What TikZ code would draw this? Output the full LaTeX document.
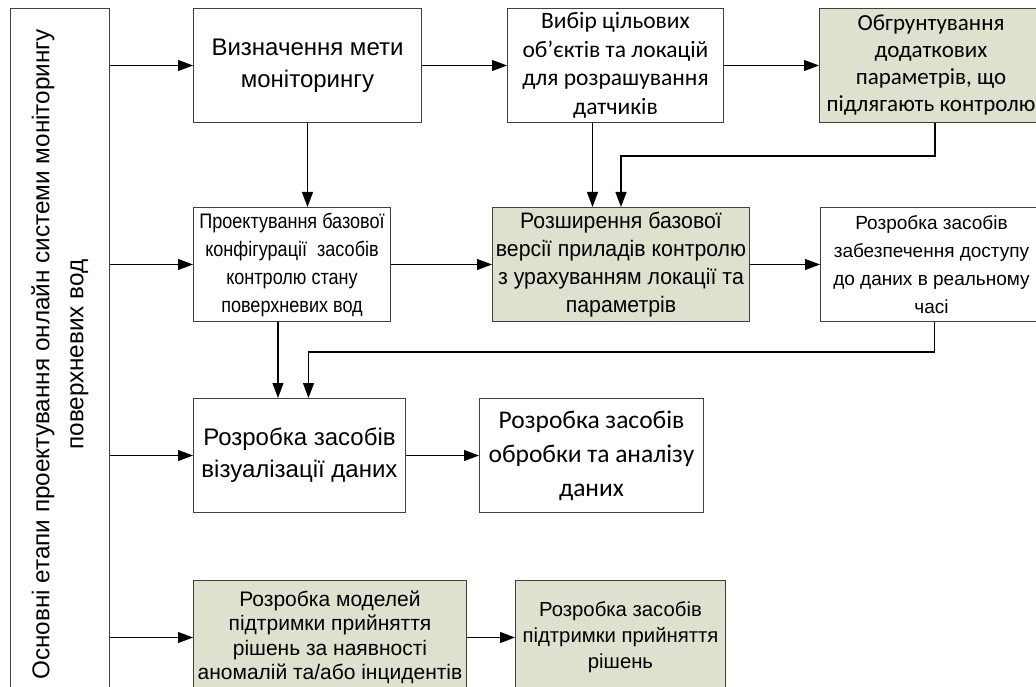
\documentclass[tikz,border=0pt]{standalone}
\usepackage{fontspec}
\setmainfont{Liberation Sans}
\newfontfamily\calibrifont{Carlito}
\newfontfamily\narrowfont[FakeStretch=0.86]{Liberation Sans}
\newfontfamily\semifont[FakeStretch=0.95]{Liberation Sans}
\usetikzlibrary{positioning}
\usetikzlibrary{arrows.meta}
\definecolor{sage}{RGB}{221,225,205}
\definecolor{edgegray}{RGB}{64,64,64}

\begin{document}
\begin{tikzpicture}[x=1pt, y=1pt,
stagebox/.style={rectangle, draw=edgegray, line width=1pt, minimum height=114pt, align=center, inner sep=2pt},
newbox/.style={stagebox, fill=sage},
edge/.style={-{Triangle[length=15pt,width=11pt]}, line width=1.1pt}
]
\useasboundingbox (0,0) rectangle (1036,-687);
\clip (0,0) rectangle (1036,-687);

%Nodes
\node[stagebox, rotate=90, minimum width=692pt, minimum height=99pt, anchor=north east, font=\fontsize{24.3}{34}\selectfont] (main) at (10,-8) {Основні етапи проектування онлайн системи моніторингу\\поверхневих вод};
\node[stagebox, minimum width=228pt, anchor=north west, font=\fontsize{24}{32}\selectfont] (goal) at (193,-8) {Визначення мети\\моніторингу};
\node[stagebox, minimum width=216pt, font=\calibrifont\fontsize{23.5}{28.5}\selectfont] (targets) [right=85pt of goal] {Вибір цільових\\об’єктів та локацій\\для розрашування\\датчиків};
\node[newbox, minimum width=223pt, font=\calibrifont\fontsize{23}{27}\selectfont] (params) [right=95pt of targets] {Обгрунтування\\додаткових\\параметрів, що\\підлягають контролю};
\node[stagebox, minimum width=197pt, font=\narrowfont\fontsize{21}{28}\selectfont] (design) [below=84pt of goal.south west, anchor=north west] {Проектування базової\\конфігурації~ засобів\\контролю стану\\поверхневих вод};
\node[newbox, minimum width=257pt, font=\semifont\fontsize{22.4}{28}\selectfont] (extend) [right=101pt of design] {Розширення базової\\версії приладів контролю\\з урахуванням локації та\\параметрів};
\node[stagebox, minimum width=222pt, font=\fontsize{19}{28}\selectfont] (access) [right=70pt of extend] {Розробка засобів\\забезпечення доступу\\до даних в реальному\\часі};
\node[stagebox, minimum width=212pt, font=\fontsize{24}{32}\selectfont] (visual) [below=76pt of design.south west, anchor=north west] {Розробка засобів\\візуалізації даних};
\node[stagebox, minimum width=224pt, font=\calibrifont\fontsize{25.5}{34}\selectfont] (analysis) [right=73pt of visual] {Розробка засобів\\обробки та аналізу\\даних};
\node[newbox, minimum width=273pt, font=\fontsize{21}{24.5}\selectfont] (models) [below=67pt of visual.south west, anchor=north west] {Розробка моделей\\підтримки прийняття\\рішень за наявності\\аномалій та/або інцидентів};
\node[newbox, minimum width=210pt, font=\fontsize{20.3}{26}\selectfont] (tools) [right=48pt of models] {Розробка засобів\\підтримки прийняття\\рішень};

%Lines
\foreach \n in {goal,design,visual,models}
  \draw[edge] (main.south |- \n.west) -- (\n.west);
\foreach \a/\b in {goal/targets, targets/params, design/extend, extend/access, visual/analysis, models/tools}
  \draw[edge] (\a.east) -- (\b.west);

\draw[edge] (goal.south) -- (goal.south |- design.north);
\draw[edge] ([xshift=-23pt]targets.south) -- ([xshift=-23pt]targets.south |- extend.north);
\draw[edge] ([xshift=4pt]params.south) |- ([yshift=51pt]extend.north) -- (extend.north);
\draw[edge] ([xshift=-14pt]design.south) -- ([xshift=-14pt]design.south |- visual.north);
\draw[edge] ([xshift=3pt]access.south) |- ([xshift=9pt,yshift=46pt]visual.north) -- ([xshift=9pt]visual.north);

\end{tikzpicture}
\end{document}
